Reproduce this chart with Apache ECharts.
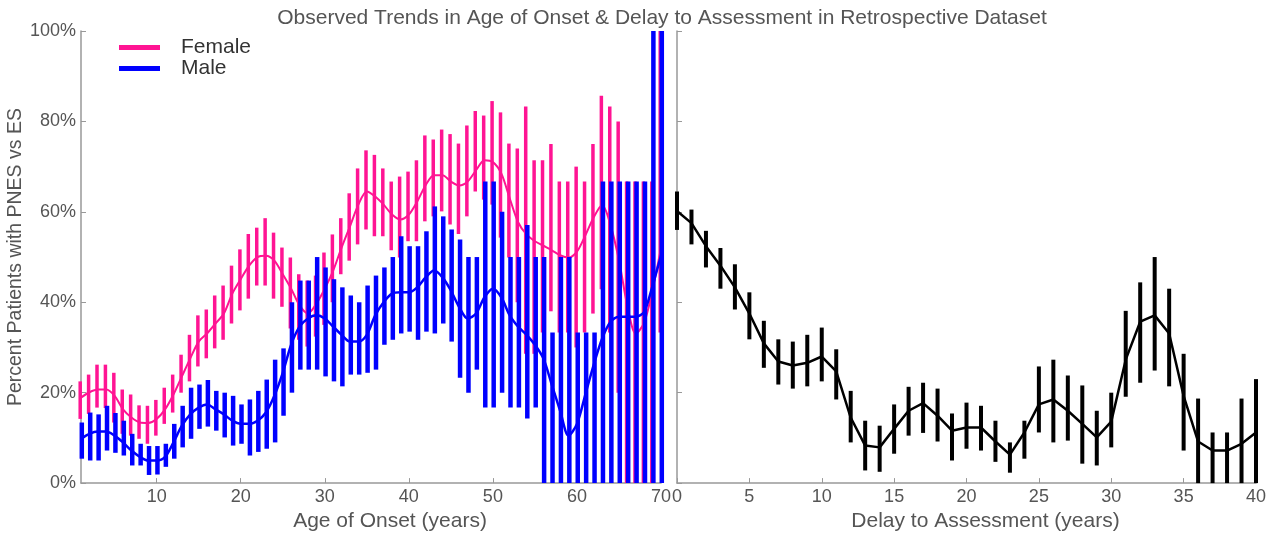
<!DOCTYPE html>
<html>
<head>
<meta charset="utf-8">
<script src="https://cdn.jsdelivr.net/npm/echarts@6/dist/echarts.min.js"></script>
<style>
  html, body { margin: 0; padding: 0; background: #fff; }
  #chart { width: 1277px; height: 537px; }
</style>
</head>
<body>
<div id="chart"></div>
<script>
// 年龄 1..70 的女性 / 男性均值与误差上下限 (%)
var femaleMean = [18.9,20.1,20.7,20.7,19.3,16.3,14.5,13.4,13.3,14.2,
  16.3,19.6,23.6,27.6,31.3,33.1,35.3,37.5,41.9,45.1,
  48.1,50.0,50.3,49.2,46.2,43.0,39.3,37.5,39.7,43.0,
  47.0,52.1,56.8,61.6,64.5,63.4,61.6,59.4,58.3,59.4,
  62.3,65.9,68.1,68.1,66.7,65.8,66.7,69.2,71.4,71.0,
  68.5,63.0,57.7,55.0,53.5,52.5,51.5,50.4,49.9,51.2,
  54.8,58.8,61.5,57.0,49.3,39.2,33.0,35.5,42.8,52.0];
var femaleHigh = [22.5,24.0,26.2,26.2,24.4,20.7,19.6,17.2,17.1,18.4,
  21.1,24.0,28.4,32.8,37.1,38.4,41.5,43.7,48.1,51.7,
  55.1,56.5,58.6,55.4,52.1,49.9,46.2,44.8,45.9,51.0,
  55.0,58.6,64.1,69.6,73.6,72.6,69.6,66.7,67.8,68.9,
  71.4,76.9,76.0,78.2,77.2,75.1,79.1,82.3,81.3,84.5,
  82.0,75.1,74.0,83.3,71.4,71.4,75.0,66.7,66.7,70.0,
  66.7,75.0,85.7,83.3,80.0,66.7,66.7,66.7,66.7,100];
var femaleLow = [14.2,15.3,16.7,16.6,13.4,10.9,10.5,9.8,8.7,10.5,
  13.1,15.6,20.0,22.5,25.8,27.6,29.8,31.7,35.3,38.2,
  40.8,43.7,43.7,40.8,39.0,34.2,31.7,30.2,32.4,35.0,
  40.0,46.2,49.2,52.8,56.1,54.6,54.6,51.5,49.9,53.5,
  53.5,57.9,59.0,60.1,57.2,55.1,59.0,64.5,62.7,61.6,
  54.3,49.9,40.0,28.6,28.6,33.3,38.0,33.3,33.3,30.0,
  33.3,37.5,42.9,33.3,20.0,0,0,0,0,33.3];

var maleMean = [9.8,10.9,11.4,11.4,10.5,9.0,7.2,5.8,5.0,5.0,
  5.8,9.0,12.7,15.2,16.7,17.4,16.3,15.2,13.8,13.1,
  13.1,13.8,15.6,19.3,24.4,30.6,34.6,36.4,37.1,36.4,
  34.6,32.8,31.3,31.3,32.8,37.1,40.0,41.9,42.2,42.2,
  43.3,45.5,47.0,45.5,42.6,38.9,36.4,37.5,41.1,43.0,
  41.1,37.1,34.6,32.8,30.6,27.6,21.8,16.0,10.5,13.1,
  19.6,26.2,32.0,35.7,36.8,36.8,36.8,37.9,43.7,50.3];
var maleHigh = [13.4,15.6,15.2,17.1,15.5,13.8,10.9,8.7,8.2,8.2,
  8.7,13.1,17.1,21.1,21.8,22.8,20.4,20.0,19.3,17.4,
  18.5,20.4,22.9,27.3,29.8,40.0,44.8,44.8,50.0,47.7,
  45.1,43.3,41.5,40.0,43.7,45.9,47.7,50.0,54.6,52.4,
  52.4,55.7,61.2,59.0,56.1,53.9,50.0,50.0,66.7,66.7,
  60.0,50.0,50.0,57.1,50.0,50.0,33.3,50.0,50.0,33.3,
  33.3,33.3,66.7,66.7,66.7,66.7,66.7,66.7,100,100];
var maleLow = [5.4,5.0,5.0,7.2,6.7,6.1,3.9,3.9,1.8,1.9,
  3.6,5.4,7.9,9.8,12.0,12.5,11.6,10.1,8.3,8.7,
  6.1,6.9,7.6,9.0,14.9,20.0,25.1,25.1,25.1,23.6,
  22.5,21.4,24.0,24.0,24.4,25.1,30.6,31.7,33.1,33.5,
  31.7,33.5,33.1,35.3,31.3,23.3,20.0,25.1,16.7,16.7,
  20.0,16.7,16.7,14.3,16.7,0,0,0,0,0,
  0,0,0,0,0,0,0,0,0,0];

// 延迟 0..40 年
var delayMean = [60.2,57.5,52.4,48.1,43.3,37.5,30.9,26.9,26.0,26.6,28.0,24.7,14.5,8.3,7.9,12.0,16.0,17.7,14.9,11.6,
  12.3,12.3,9.2,6.3,11.2,17.4,18.5,16.0,13.1,10.1,13.6,27.3,35.7,37.1,33.1,19.3,9.2,7.2,7.2,8.7,11.2];
var delayHigh = [64.5,60.5,55.8,52.0,48.4,42.2,35.9,31.8,31.3,32.8,34.4,29.6,20.4,13.8,12.7,17.4,21.3,22.2,20.9,15.4,
  17.8,17.1,13.8,9.0,13.8,25.8,27.3,23.8,21.6,16.0,20.0,38.1,44.4,50.0,43.0,28.6,18.7,11.2,11.2,18.7,23.0];
var delayLow = [56.0,52.8,47.7,43.0,38.4,31.8,25.5,21.8,20.9,21.4,22.5,18.5,9.0,2.8,2.5,6.5,10.5,11.1,9.2,5.0,
  7.6,7.2,4.7,2.3,5.4,11.2,9.0,9.4,4.3,3.9,7.9,19.1,22.2,24.9,21.4,7.2,0,0,0,0,0];

var ageTicks = [10, 20, 30, 40, 50, 60, 70];

var FONT = '"Liberation Sans", Arial, sans-serif';
var PINK = '#ff1493', BLUE = '#0000ff';

function pairs(mean, startX) {
  var out = [];
  for (var i = 0; i < mean.length; i++) out.push([startX + i, mean[i]]);
  return out;
}
function bars(low, high, startX) {
  var out = [];
  for (var i = 0; i < low.length; i++) out.push([startX + i, low[i], high[i]]);
  return out;
}
// 误差棒
function errBar(color, w, dx) {
  return function (params, api) {
    var x = api.value(0);
    var p1 = api.coord([x, api.value(2)]);
    var p2 = api.coord([x, api.value(1)]);
    return {
      type: 'line',
      shape: { x1: p1[0] + dx, y1: p1[1], x2: p2[0] + dx, y2: p2[1] },
      style: { stroke: color, lineWidth: w }
    };
  };
}

var nameStyle = { color: '#555', fontSize: 21, fontFamily: FONT, padding: [0, 0, 0, 38] };
var axisCommon = {
  axisLine: { lineStyle: { color: '#999', width: 1.5 } },
  axisTick: { inside: true, length: 5, lineStyle: { color: '#999' } },
  splitLine: { show: false },
  axisLabel: { color: '#555', fontSize: 18, fontFamily: FONT, margin: 5 }
};
function ax(extra) {
  return echarts.util.merge(echarts.util.clone(axisCommon), extra, true);
}

var chart = echarts.init(document.getElementById('chart'));
chart.setOption({
  animation: false,
  title: {
    text: 'Observed Trends in Age of Onset & Delay to Assessment in Retrospective Dataset',
    left: 657, top: 3, textAlign: 'center',
    textStyle: { color: '#555', fontSize: 21, fontWeight: 'normal', fontFamily: FONT }
  },
  legend: {
    orient: 'vertical', left: 114, top: 32,
    data: ['Female', 'Male'],
    icon: 'rect', itemWidth: 41, itemHeight: 5, itemGap: 0,
    textStyle: { color: '#333', fontSize: 21, fontFamily: FONT, lineHeight: 18, padding: [0, 0, 0, 16] }
  },
  grid: [
    { left: 81, top: 31, width: 580, height: 457 },
    { left: 677, top: 31, width: 579, height: 457 }
  ],
  xAxis: [
    ax({ gridIndex: 0, type: 'value', min: 1, max: 70,
      name: 'Age of Onset (years)', nameLocation: 'middle', nameGap: 22,
      nameTextStyle: nameStyle,
      axisTick: { customValues: ageTicks },
      axisLabel: { customValues: ageTicks } }),
    ax({ gridIndex: 1, type: 'value', min: 0, max: 40, interval: 5,
      name: 'Delay to Assessment (years)', nameLocation: 'middle', nameGap: 22,
      nameTextStyle: nameStyle })
  ],
  yAxis: [
    ax({ gridIndex: 0, type: 'value', min: 0, max: 100, interval: 20,
      name: 'Percent Patients with PNES vs ES', nameLocation: 'middle', nameGap: 52,
      nameTextStyle: { color: '#555', fontSize: 19.5, fontFamily: FONT },
      axisLabel: { formatter: '{value}%' } }),
    ax({ gridIndex: 1, type: 'value', min: 0, max: 100, interval: 20,
      axisLabel: { show: false } })
  ],
  series: [
    { type: 'custom', name: 'femaleErr', xAxisIndex: 0, yAxisIndex: 0, clip: false,
      renderItem: errBar(PINK, 3.5, -0.8), data: bars(femaleLow, femaleHigh, 1), z: 2 },
    { type: 'line', name: 'Female', xAxisIndex: 0, yAxisIndex: 0, data: pairs(femaleMean, 1),
      smooth: 0.3, showSymbol: false, color: PINK, lineStyle: { width: 2, color: PINK }, z: 3 },
    { type: 'custom', name: 'maleErr', xAxisIndex: 0, yAxisIndex: 0, clip: false,
      renderItem: errBar(BLUE, 4.5, 0.8), data: bars(maleLow, maleHigh, 1), z: 4 },
    { type: 'line', name: 'Male', xAxisIndex: 0, yAxisIndex: 0, data: pairs(maleMean, 1),
      smooth: 0.3, showSymbol: false, color: BLUE, lineStyle: { width: 2.5, color: BLUE }, z: 5 },
    { type: 'custom', name: 'delayErr', xAxisIndex: 1, yAxisIndex: 1, clip: false,
      renderItem: errBar('#000', 4, 0), data: bars(delayLow, delayHigh, 0), z: 2 },
    { type: 'line', name: 'Delay', xAxisIndex: 1, yAxisIndex: 1, data: pairs(delayMean, 0),
      showSymbol: false, color: '#000', lineStyle: { width: 2.5, color: '#000' }, z: 3 }
  ]
});
</script>
</body>
</html>
